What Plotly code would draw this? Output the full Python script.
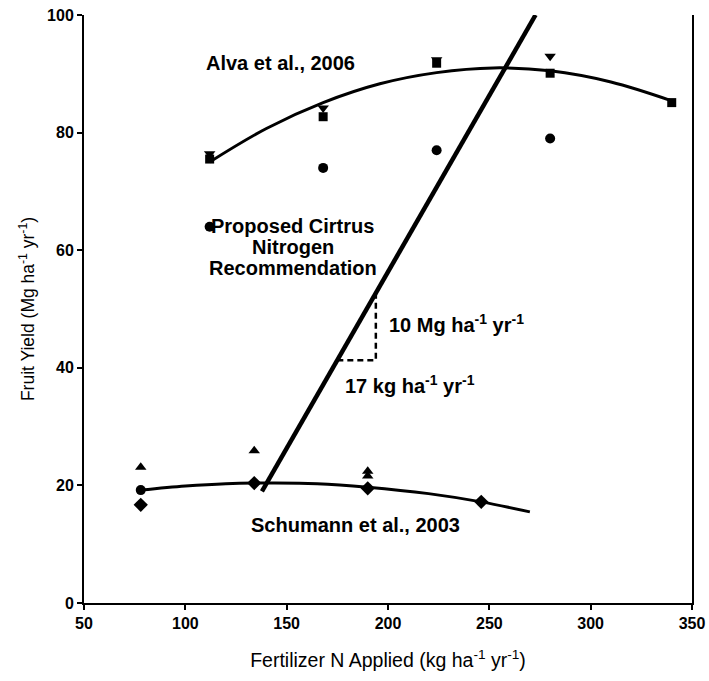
import plotly.graph_objects as go

# ---- data ----
alva_sq_x = [112, 168, 224, 280, 340]
alva_sq_y = [75.5, 82.7, 91.8, 90.1, 85.1]
alva_tri_x = [112, 168, 224, 280]
alva_tri_y = [76.4, 84.2, 92.4, 93.0]
alva_circ_x = [112, 168, 224, 280]
alva_circ_y = [64.0, 74.0, 77.0, 79.0]
alva_curve_x = [112, 140, 168, 196, 224, 252, 280, 310, 340]
alva_curve_y = [75.0, 80.7, 85.1, 88.3, 90.2, 91.0, 90.5, 88.6, 85.4]

sch_tri_x = [78, 134, 190, 190]
sch_tri_y = [23.1, 25.9, 22.4, 21.6]
sch_dia_x = [78, 134, 190, 246]
sch_dia_y = [16.7, 20.4, 19.5, 17.2]
sch_circ_x = [78]
sch_circ_y = [19.2]
sch_curve_x = [78, 100, 120, 142, 165, 190, 220, 246, 270]
sch_curve_y = [19.2, 19.9, 20.3, 20.4, 20.3, 19.7, 18.6, 17.2, 15.5]

prop_x = [137.8, 272.8]
prop_y = [19.0, 100.0]
slope_x = [175, 194, 194]
slope_y = [41.3, 41.3, 52.7]

FONT = "Arial, Liberation Sans, sans-serif"
fig = go.Figure()

def line(x, y, w, dash=None, shape="linear"):
    fig.add_trace(go.Scatter(x=x, y=y, mode="lines", line=dict(color="black", width=w, dash=dash, shape=shape),
                             showlegend=False, hoverinfo="skip"))

def pts(x, y, sym, size):
    fig.add_trace(go.Scatter(x=x, y=y, mode="markers", marker=dict(symbol=sym, size=size, color="black"),
                             showlegend=False))

pts(alva_tri_x, alva_tri_y, "triangle-down", 10)
pts(alva_sq_x, alva_sq_y, "square", 9)
pts(alva_circ_x, alva_circ_y, "circle", 10)
pts(sch_tri_x, sch_tri_y, "triangle-up", 10)
pts(sch_dia_x, sch_dia_y, "diamond", 11)
pts(sch_circ_x, sch_circ_y, "circle", 10)
line(alva_curve_x, alva_curve_y, 3, shape="spline")
line(sch_curve_x, sch_curve_y, 3, shape="spline")
line(prop_x, prop_y, 4.5)
line(slope_x, slope_y, 2.5, dash="6px,4px")

ann_font = dict(family=FONT, size=20, color="black", weight="bold")
anns = [
    dict(x=147, y=91.8, text="Alva et al., 2006", xanchor="center"),
    dict(x=153, y=64.1, text="Proposed Cirtrus", xanchor="center"),
    dict(x=153, y=60.5, text="Nitrogen", xanchor="center"),
    dict(x=153, y=56.9, text="Recommendation", xanchor="center"),
    dict(x=199.5, y=47.6, text="10 Mg ha<sup>-1</sup> yr<sup>-1</sup>", xanchor="left"),
    dict(x=177.8, y=37.1, text="17 kg ha<sup>-1</sup> yr<sup>-1</sup>", xanchor="left"),
    dict(x=184, y=13.3, text="Schumann et al., 2003", xanchor="center"),
]
for a in anns:
    fig.add_annotation(xref="x", yref="y", showarrow=False, yanchor="middle", font=ann_font, **a)

fig.update_layout(
    width=709, height=681,
    margin=dict(l=84, r=17, t=15, b=78),
    plot_bgcolor="white", paper_bgcolor="white",
    font=dict(family=FONT, color="black"),
)
fig.update_xaxes(range=[50, 350], tickvals=[50, 100, 150, 200, 250, 300, 350], automargin=False,
                 ticklabeloverflow="allow",
                 showgrid=False, zeroline=False, showline=True, linecolor="black", linewidth=2,
                 ticks="outside", ticklen=5, tickwidth=2, tickcolor="black",
                 tickfont=dict(size=16, family=FONT, weight="bold"),
                 title=dict(text="Fertilizer N Applied (kg ha<sup>-1</sup> yr<sup>-1</sup>)",
                            font=dict(size=19.5, family=FONT), standoff=22))
fig.update_yaxes(range=[0, 100], tickvals=[0, 20, 40, 60, 80, 100], automargin=False,
                 ticklabeloverflow="allow",
                 showgrid=False, zeroline=False, showline=True, linecolor="black", linewidth=2, mirror=True,
                 ticks="outside", ticklen=5, tickwidth=2, tickcolor="black",
                 tickfont=dict(size=16, family=FONT, weight="bold"),
                 title=dict(text="Fruit Yield (Mg ha<sup>-1</sup> yr<sup>-1</sup>)",
                            font=dict(size=17.5, family=FONT), standoff=8))

fig.write_html("out.html", config={"displayModeBar": False},
               post_script="document.body.style.margin='0';document.body.style.overflow='hidden';")
